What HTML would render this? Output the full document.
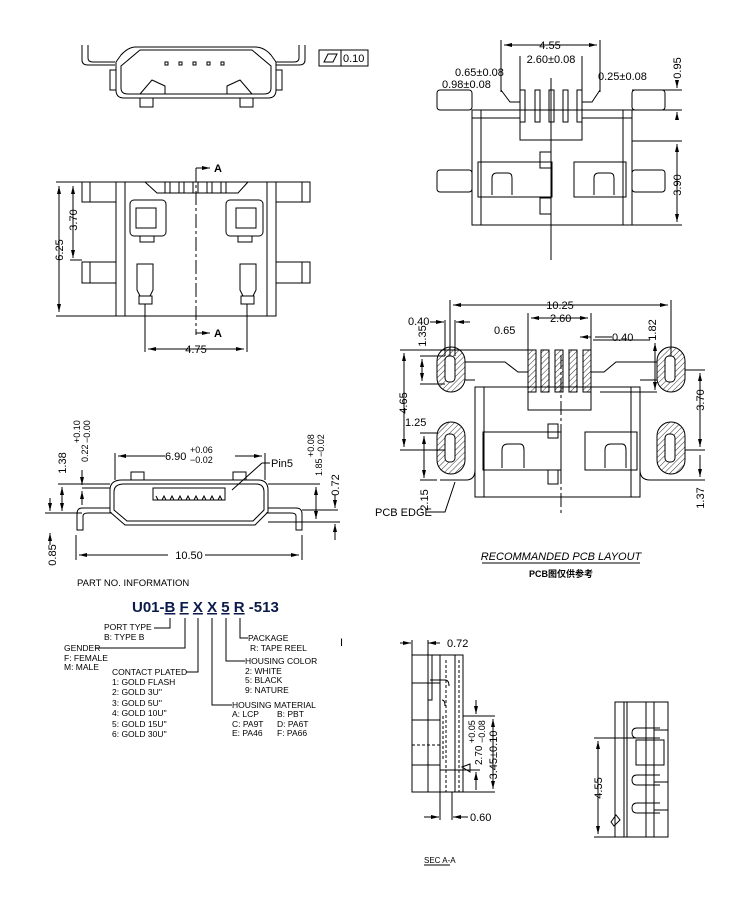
<!DOCTYPE html>
<html><head><meta charset="utf-8"><style>
html,body{margin:0;padding:0;background:#fff}
svg{display:block}
text{font-family:"Liberation Sans","Noto Sans CJK SC",sans-serif;fill:#000}
.d{font-size:11px}
.s{font-size:8.5px}
</style></head><body>
<svg width="750" height="900" viewBox="0 0 750 900" xmlns="http://www.w3.org/2000/svg">
<defs>
<pattern id="h" width="4" height="4" patternUnits="userSpaceOnUse" patternTransform="rotate(45)"><line x1="0" y1="0" x2="0" y2="4" stroke="#000" stroke-width="0.8"/></pattern>
<marker id="a" markerWidth="8" markerHeight="6" refX="8" refY="3" orient="auto-start-reverse"><path d="M0,1 L8,3 L0,5z" fill="#000"/></marker>
</defs>
<g fill="none" stroke="#000" stroke-width="1">
<!-- TOP VIEW -->
<path d="M82,45 V60 Q82,65 88,65 H115"/><path d="M88,45 V58 Q88,62 93,62 H115"/>
<path d="M305,45 V60 Q305,65 299,65 H276"/><path d="M299,45 V58 Q299,62 294,62 H276"/>
<path d="M136,47 H255 Q264,47 271,55 L276,62 V90 Q276,98 268,98 H124 Q116,98 116,90 V62 L121,55 Q128,47 136,47z"/>
<path d="M140,50 H252 L271,66 V88 Q271,94 264,94 H128 Q121,94 121,88 V66z"/>
<rect x="110" y="70" width="6" height="20"/><rect x="276" y="70" width="6" height="20"/>
<path d="M140,94 L152,80 L165,86 V94"/><path d="M252,94 L240,80 L227,86 V94"/>
<rect x="140" y="98" width="13" height="9"/><rect x="240" y="98" width="13" height="9"/>
<rect x="165" y="62" width="3" height="3"/><rect x="179" y="62" width="3" height="3"/><rect x="193" y="62" width="3" height="3"/><rect x="207" y="62" width="3" height="3"/><rect x="221" y="62" width="3" height="3"/>
<rect x="319" y="50" width="49" height="16"/><line x1="341" y1="50" x2="341" y2="66"/>
<path d="M324,62 L328,54 H337 L333,62z"/>
<!-- FRONT VIEW -->
<rect x="116" y="182" width="160" height="134"/>
<line x1="125" y1="182" x2="125" y2="316"/><line x1="267" y1="182" x2="267" y2="316"/>
<rect x="82" y="182" width="34" height="20"/><rect x="82" y="262" width="34" height="21"/>
<rect x="276" y="182" width="34" height="20"/><rect x="276" y="262" width="34" height="21"/>
<line x1="90" y1="182" x2="90" y2="202"/><line x1="90" y1="262" x2="90" y2="283"/>
<line x1="302" y1="182" x2="302" y2="202"/><line x1="302" y1="262" x2="302" y2="283"/>
<path d="M145,182 L157,193 H238 L248,182"/>
<rect x="165" y="182" width="5" height="11"/><rect x="179" y="182" width="5" height="11"/><rect x="193" y="182" width="5" height="11"/><rect x="207" y="182" width="5" height="11"/><rect x="221" y="182" width="5" height="11"/>
<rect x="130" y="200" width="36" height="36" rx="4"/><rect x="136" y="208" width="20" height="20"/>
<rect x="226" y="200" width="37" height="36" rx="4"/><rect x="236" y="208" width="20" height="20"/>
<rect x="140" y="236" width="14" height="6"/><rect x="238" y="236" width="14" height="6"/>
<path d="M137,264 H153 V290 L150,296 H140 L137,290z"/><rect x="139" y="296" width="13" height="8"/>
<path d="M240,264 H256 V290 L253,296 H243 L240,290z"/><rect x="241" y="296" width="13" height="8"/>
<line x1="196" y1="168" x2="196" y2="335" stroke-dasharray="14,3,3,3"/>
<path d="M196,168 H210" marker-end="url(#a)"/><path d="M196,333 H210" marker-end="url(#a)"/>
<line x1="56" y1="182" x2="116" y2="182"/><line x1="56" y1="316" x2="116" y2="316"/><line x1="70" y1="260" x2="82" y2="260"/>
<path d="M59,186 V312" marker-start="url(#a)" marker-end="url(#a)"/>
<path d="M73,186 V258" marker-start="url(#a)" marker-end="url(#a)"/>
<line x1="145" y1="304" x2="145" y2="352"/><line x1="247" y1="304" x2="247" y2="352"/>
<path d="M148,349 H244" marker-start="url(#a)" marker-end="url(#a)"/>
<!-- RIGHT TOP VIEW -->
<rect x="472" y="110" width="160" height="115"/>
<line x1="481" y1="110" x2="481" y2="225"/><line x1="623" y1="110" x2="623" y2="225"/>
<rect x="437" y="90" width="35" height="20" rx="3"/><rect x="437" y="170" width="35" height="22" rx="3"/>
<rect x="632" y="90" width="33" height="20" rx="3"/><rect x="632" y="170" width="33" height="22" rx="3"/>
<path d="M501,90 L510,102 H520"/><path d="M600,90 L592,102 H582"/>
<rect x="520" y="90" width="5" height="32"/><rect x="535" y="90" width="5" height="32"/><rect x="549" y="90" width="5" height="32"/><rect x="563" y="90" width="5" height="32"/><rect x="577" y="90" width="5" height="32"/>
<path d="M472,118 H520 M582,118 H632"/><path d="M520,122 V140 H582 V122"/>
<rect x="478" y="162" width="74" height="35"/><rect x="574" y="162" width="52" height="35"/>
<path d="M492,195 V178 Q492,173 497,173 H508 Q512,173 512,178 V195"/><path d="M594,195 V178 Q594,173 599,173 H610 Q614,173 614,178 V195"/>
<rect x="540" y="152" width="11" height="16"/><rect x="540" y="198" width="11" height="16"/>
<line x1="551" y1="78" x2="551" y2="260"/>
<line x1="501" y1="40" x2="501" y2="92"/><line x1="600" y1="40" x2="600" y2="92"/>
<path d="M504,45 H597" marker-start="url(#a)" marker-end="url(#a)"/>
<line x1="520" y1="56" x2="520" y2="92"/><line x1="582" y1="56" x2="582" y2="92"/>
<line x1="632" y1="90" x2="682" y2="90"/><line x1="632" y1="110" x2="682" y2="110"/>
<line x1="632" y1="141" x2="682" y2="141"/><line x1="632" y1="225" x2="682" y2="225"/>
<path d="M677,144 V222" marker-start="url(#a)" marker-end="url(#a)"/>
<path d="M677,82 V88" marker-end="url(#a)"/><path d="M677,118 V112" marker-end="url(#a)"/>
<!-- PCB LAYOUT -->
<rect x="437" y="347" width="28" height="45" rx="14" fill="url(#h)"/><rect x="445" y="356" width="10" height="26" rx="4" fill="#fff"/>
<rect x="437" y="422" width="28" height="52" rx="14" fill="url(#h)"/><rect x="445" y="434" width="10" height="28" rx="4" fill="#fff"/>
<rect x="657" y="347" width="28" height="45" rx="14" fill="url(#h)"/><rect x="665" y="356" width="10" height="26" rx="4" fill="#fff"/>
<rect x="657" y="422" width="28" height="52" rx="14" fill="url(#h)"/><rect x="665" y="434" width="10" height="28" rx="4" fill="#fff"/>
<rect x="528" y="350" width="8" height="42" fill="url(#h)"/><rect x="541" y="350" width="8" height="42" fill="url(#h)"/><rect x="555" y="350" width="8" height="42" fill="url(#h)"/><rect x="569" y="350" width="8" height="42" fill="url(#h)"/><rect x="583" y="350" width="8" height="42" fill="url(#h)"/>
<rect x="475" y="387" width="165" height="110"/>
<line x1="484" y1="387" x2="484" y2="497"/><line x1="631" y1="387" x2="631" y2="497"/>
<path d="M465,362 H505 L518,372 H528 M591,372 H604 L616,362 H657"/>
<path d="M465,380 H475 M640,380 H657"/>
<path d="M528,392 V410 H591 V392"/>
<rect x="483" y="432" width="78" height="38"/><rect x="585" y="432" width="52" height="38"/>
<path d="M502,468 V450 Q502,444 508,444 H520 Q524,444 524,450 V468"/><path d="M605,468 V450 Q605,444 611,444 H622 Q626,444 626,450 V468"/>
<rect x="548" y="424" width="10" height="14"/><rect x="548" y="470" width="10" height="14"/>
<line x1="561" y1="355" x2="561" y2="515" stroke-dasharray="14,3,3,3"/>
<path d="M440,480 H466 Q475,480 475,470"/><path d="M640,470 Q640,480 650,480 H685"/>
<line x1="450" y1="300" x2="450" y2="356"/><line x1="671" y1="300" x2="671" y2="356"/>
<path d="M453,305 H668" marker-start="url(#a)" marker-end="url(#a)"/>
<line x1="528" y1="313" x2="528" y2="350"/><line x1="591" y1="313" x2="591" y2="350"/>
<path d="M531,318 H588" marker-start="url(#a)" marker-end="url(#a)"/>
<line x1="445" y1="320" x2="445" y2="356"/><line x1="455" y1="320" x2="455" y2="356"/>
<path d="M430,322 H444" marker-end="url(#a)"/><path d="M470,322 H456" marker-end="url(#a)"/>
<line x1="400" y1="350" x2="528" y2="350"/><line x1="420" y1="356" x2="445" y2="356"/><line x1="420" y1="384" x2="445" y2="384"/>
<path d="M422,359 V381" marker-start="url(#a)" marker-end="url(#a)"/>
<path d="M404,353 V447" marker-start="url(#a)" marker-end="url(#a)"/><line x1="400" y1="450" x2="445" y2="450"/>
<line x1="420" y1="433" x2="437" y2="433"/><line x1="420" y1="480" x2="437" y2="480"/>
<path d="M424,436 V478" marker-start="url(#a)" marker-end="url(#a)"/>
<path d="M428,512 H445 L455,482"/>
<path d="M591,337 H580" marker-end="url(#a)"/><path d="M595,337 H612"/>
<line x1="593" y1="340" x2="650" y2="340"/><line x1="600" y1="392" x2="657" y2="392"/>
<path d="M655,343 V390" marker-start="url(#a)" marker-end="url(#a)"/>
<line x1="685" y1="370" x2="705" y2="370"/><line x1="685" y1="450" x2="705" y2="450"/>
<path d="M700,373 V447" marker-start="url(#a)" marker-end="url(#a)"/>
<line x1="685" y1="480" x2="705" y2="480"/><path d="M700,455 V477" marker-end="url(#a)"/>
<line x1="482" y1="563" x2="640" y2="563"/>
<!-- SIDE VIEW -->
<path d="M122,480 H258 Q268,480 268,490 V512 L255,525 H125 L110,512 V490 Q110,480 122,480z"/>
<path d="M124,484 H256 Q264,484 264,492 V510 L253,521 H127 L114,510 V492 Q114,484 124,484z"/>
<path d="M153,488 H225 V500 H153z"/>
<path d="M156,496 L158,500 H162 L164,496 L166,500 H170 L172,496 L174,500 H178 L180,496 L182,500 H186 L188,496 L190,500 H194 L196,496 L198,500 H202 L204,496 L206,500 H210 L212,496 L214,500 H218 L220,496 L222,500"/>
<rect x="131" y="472" width="13" height="8"/><rect x="233" y="472" width="13" height="8"/>
<path d="M110,508 H82 Q77,508 77,514 V530 H83 V516 Q83,513 88,513 H112"/>
<path d="M268,508 H296 Q302,508 302,514 V530 H296 V516 Q296,513 291,513 H266"/>
<line x1="115" y1="453" x2="115" y2="480"/><line x1="265" y1="453" x2="265" y2="480"/>
<path d="M118,456 H165" marker-start="url(#a)"/><path d="M235,456 H262" marker-end="url(#a)"/>
<path d="M262,463 L232,490" /><line x1="262" y1="463" x2="270" y2="463"/>
<line x1="76" y1="535" x2="76" y2="560"/><line x1="302" y1="535" x2="302" y2="560"/>
<path d="M79,555 H168" marker-start="url(#a)"/><path d="M205,555 H299" marker-end="url(#a)"/>
<line x1="58" y1="484" x2="110" y2="484"/><line x1="45" y1="513" x2="82" y2="513"/>
<path d="M62,487 V511" marker-start="url(#a)" marker-end="url(#a)"/>
<line x1="82" y1="488" x2="110" y2="488"/><path d="M82,470 V485" marker-end="url(#a)"/><path d="M82,505 V491" marker-end="url(#a)"/>
<path d="M50,498 V511" marker-end="url(#a)"/><path d="M50,545 V533" marker-end="url(#a)"/>
<line x1="268" y1="484" x2="320" y2="484"/><line x1="268" y1="522" x2="340" y2="522"/>
<path d="M316,487 V519" marker-start="url(#a)" marker-end="url(#a)"/>
<line x1="302" y1="510" x2="338" y2="510"/><path d="M335,495 V508" marker-end="url(#a)"/><path d="M335,540 V524" marker-end="url(#a)"/>
<!-- PART NUMBER LEADERS -->
<path d="M154,628 H170 V618"/><path d="M95,648 H185 V618"/><path d="M186,672 H198 V618"/>
<path d="M212,618 V705 H232"/><path d="M226,618 V661 H245"/><path d="M240,618 V638 H248"/>
<!-- SEC A-A -->
<rect x="412" y="655" width="51" height="137"/>
<line x1="428" y1="655" x2="428" y2="792"/><line x1="440" y1="655" x2="440" y2="792"/><line x1="455" y1="655" x2="455" y2="792"/>
<line x1="446" y1="660" x2="446" y2="792" stroke-dasharray="3,2"/><line x1="459" y1="660" x2="459" y2="792" stroke-dasharray="3,2"/>
<path d="M428,655 V700 H432 V655"/><path d="M430,680 H445 Q449,680 449,686"/>
<path d="M412,683 H440 M412,720 H440 M412,765 H440"/>
<path d="M443,716 V760" stroke-dasharray="3,2"/><path d="M442,700 Q445,700 445,706"/>
<line x1="412" y1="745" x2="440" y2="745" stroke-dasharray="3,2"/>
<path d="M400,643 H411" marker-end="url(#a)"/><path d="M440,643 H428" marker-end="url(#a)"/>
<line x1="412" y1="640" x2="412" y2="655"/><line x1="428" y1="640" x2="428" y2="655"/>
<line x1="440" y1="770" x2="480" y2="770"/><line x1="463" y1="792" x2="495" y2="792"/><line x1="463" y1="716" x2="495" y2="716"/>
<path d="M476,700 V714" marker-end="url(#a)"/><path d="M476,790 V772" marker-end="url(#a)"/>
<path d="M493,719 V789" marker-start="url(#a)" marker-end="url(#a)"/>
<path d="M462,767 L470,764 L470,772z"/>
<line x1="440" y1="792" x2="440" y2="820"/><line x1="452" y1="792" x2="452" y2="820"/>
<path d="M424,817 H439" marker-end="url(#a)"/><path d="M468,817 H453" marker-end="url(#a)"/>
<line x1="424" y1="865" x2="450" y2="865"/>
<!-- RIGHT SIDE VIEW -->
<rect x="615" y="702" width="53" height="135"/>
<line x1="624" y1="702" x2="624" y2="837"/><line x1="627" y1="702" x2="627" y2="837"/><line x1="646" y1="702" x2="646" y2="837"/><line x1="654" y1="702" x2="654" y2="837"/>
<rect x="654" y="702" width="14" height="28"/>
<path d="M660,728 H637 Q632,728 632,733 Q632,738 637,738 H660"/><path d="M660,775 H637 Q632,775 632,780 Q632,785 637,785 H660"/><path d="M660,803 H637 Q632,803 632,808 Q632,813 637,813 H660"/>
<rect x="636" y="740" width="28" height="25"/><rect x="654" y="782" width="14" height="28"/>
<line x1="594" y1="738" x2="640" y2="738"/><line x1="594" y1="837" x2="615" y2="837"/>
<path d="M598,741 V834" marker-start="url(#a)" marker-end="url(#a)"/>
<path d="M611,822 L616,815 L620,820 L614,826z"/>
</g>
<!-- TEXT -->
<text x="343" y="62" class="d">0.10</text>
<text x="214" y="172" class="d" font-weight="bold">A</text><text x="214" y="337" class="d" font-weight="bold">A</text>
<text class="d" transform="translate(63,250) rotate(-90)" text-anchor="middle">6.25</text>
<text class="d" transform="translate(77,220) rotate(-90)" text-anchor="middle">3.70</text>
<text x="196" y="353" class="d" text-anchor="middle">4.75</text>
<text x="550" y="49" class="d" text-anchor="middle">4.55</text>
<text x="551" y="63" class="d" text-anchor="middle">2.60±0.08</text>
<text x="455" y="76" class="d">0.65±0.08</text>
<text x="442" y="88" class="d">0.98±0.08</text>
<text x="598" y="80" class="d">0.25±0.08</text>
<text class="d" transform="translate(681,68) rotate(-90)" text-anchor="middle">0.95</text>
<text class="d" transform="translate(681,185) rotate(-90)" text-anchor="middle">3.90</text>
<text x="560" y="309" class="d" text-anchor="middle">10.25</text>
<text x="408" y="325" class="d">0.40</text>
<text x="550" y="322" class="d">2.60</text>
<text x="494" y="334" class="d">0.65</text>
<text x="612" y="341" class="d">0.40</text>
<text class="d" transform="translate(426,336) rotate(-90)" text-anchor="middle">1.35</text>
<text class="d" transform="translate(656,330) rotate(-90)" text-anchor="middle">1.82</text>
<text class="d" transform="translate(407,403) rotate(-90)" text-anchor="middle">4.65</text>
<text x="405" y="426" class="d">1.25</text>
<text class="d" transform="translate(428,500) rotate(-90)" text-anchor="middle">2.15</text>
<text x="375" y="516" class="d">PCB EDGE</text>
<text class="d" transform="translate(704,400) rotate(-90)" text-anchor="middle">3.70</text>
<text class="d" transform="translate(704,498) rotate(-90)" text-anchor="middle">1.37</text>
<text x="561" y="560" class="d" text-anchor="middle" font-style="italic">RECOMMANDED PCB LAYOUT</text>
<text x="561" y="577" font-size="9" font-weight="bold" text-anchor="middle">PCB图仅供参考</text>
<text x="165" y="460" class="d">6.90</text><text x="190" y="453" font-size="9">+0.06</text><text x="190" y="463" font-size="9">−0.02</text>
<text x="271" y="467" class="d">Pin5</text>
<text x="189" y="559" class="d" text-anchor="middle">10.50</text>
<text class="d" transform="translate(66,463) rotate(-90)" text-anchor="middle">1.38</text>
<text font-size="9" transform="translate(88,462) rotate(-90)">0.22</text>
<text font-size="9" transform="translate(80,443) rotate(-90)">+0.10</text>
<text font-size="9" transform="translate(90,443) rotate(-90)">−0.00</text>
<text font-size="9" transform="translate(322,476) rotate(-90)">1.85</text>
<text font-size="9" transform="translate(314,457) rotate(-90)">+0.08</text>
<text font-size="9" transform="translate(324,457) rotate(-90)">−0.02</text>
<text class="d" transform="translate(339,485) rotate(-90)" text-anchor="middle">0.72</text>
<text class="d" transform="translate(56,555) rotate(-90)" text-anchor="middle">0.85</text>
<text x="77" y="586" font-size="9.5">PART  NO.  INFORMATION</text>
<text x="132" y="612" font-size="15" font-weight="bold" style="fill:#0a1a4a">U01-<tspan text-decoration="underline">B</tspan> <tspan text-decoration="underline">F</tspan> <tspan text-decoration="underline">X</tspan> <tspan text-decoration="underline">X</tspan> <tspan text-decoration="underline">5</tspan> <tspan text-decoration="underline">R</tspan> -513</text>
<g class="s">
<text x="104" y="630">PORT  TYPE</text><text x="104" y="640">B:  TYPE  B</text>
<text x="64" y="651">GENDER</text><text x="64" y="661">F:  FEMALE</text><text x="64" y="670">M:  MALE</text>
<text x="112" y="675">CONTACT  PLATED</text>
<text x="112" y="685">1:  GOLD  FLASH</text><text x="112" y="695">2:  GOLD  3U''</text><text x="112" y="706">3:  GOLD  5U''</text><text x="112" y="716">4:  GOLD  10U''</text><text x="112" y="727">5:  GOLD  15U''</text><text x="112" y="737">6:  GOLD  30U''</text>
<text x="248" y="641">PACKAGE</text><text x="250" y="651">R:  TAPE  REEL</text>
<text x="245" y="664">HOUSING  COLOR</text><text x="245" y="674">2:  WHITE</text><text x="245" y="683">5:  BLACK</text><text x="245" y="693">9:  NATURE</text>
<text x="232" y="708">HOUSING  MATERIAL</text>
<text x="232" y="717">A:  LCP</text><text x="277" y="717">B:  PBT</text>
<text x="232" y="727">C:  PA9T</text><text x="277" y="727">D:  PA6T</text>
<text x="232" y="736">E:  PA46</text><text x="277" y="736">F:  PA66</text>
</g>
<text x="340" y="646" class="d">I</text>
<text x="447" y="647" class="d">0.72</text>
<text x="470" y="821" class="d">0.60</text>
<text font-size="10" transform="translate(482,765) rotate(-90)">2.70</text>
<text font-size="9" transform="translate(475,743) rotate(-90)">+0.05</text>
<text font-size="9" transform="translate(485,743) rotate(-90)">−0.08</text>
<text class="d" transform="translate(497,755) rotate(-90)" text-anchor="middle">3.45±0.10</text>
<text x="424" y="863" font-size="8">SEC A-A</text>
<text class="d" transform="translate(602,788) rotate(-90)" text-anchor="middle">4.55</text>
</svg>
</body></html>
